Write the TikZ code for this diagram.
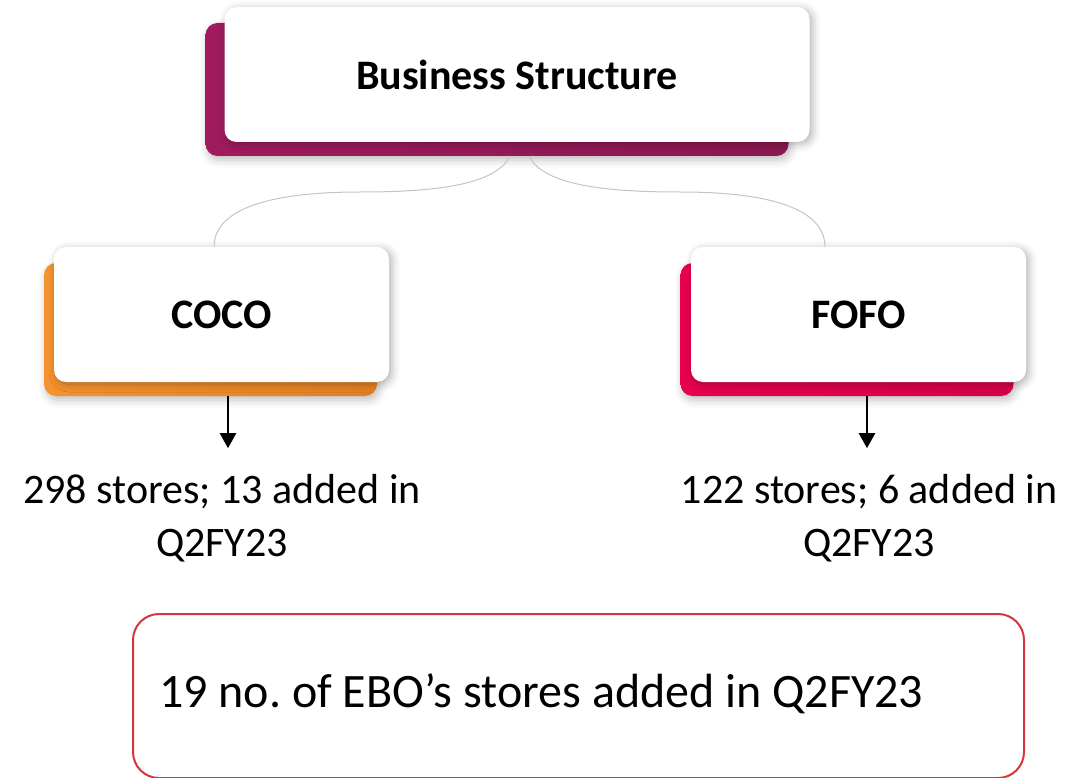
\documentclass[tikz,border=0pt]{standalone}
\usepackage{fontspec}
\setmainfont{Carlito}
\usetikzlibrary{arrows.meta,shadows.blur}
\definecolor{bsMagenta}{HTML}{8C1751}
\definecolor{bsMagentaLt}{HTML}{A01B5E}
\definecolor{bsOrange}{HTML}{E47F23}
\definecolor{bsOrangeLt}{HTML}{F4922F}
\definecolor{bsCrimson}{HTML}{D7004A}
\definecolor{bsCrimsonLt}{HTML}{E6004F}
\definecolor{bsRed}{HTML}{D5363E}
\definecolor{bsGray}{HTML}{C4C4C4}
\tikzset{
  bs card/.style={rectangle, rounded corners=12pt, fill=white, inner sep=0pt,
    minimum width=335pt, minimum height=135pt,
    font=\fontsize{42}{51}\selectfont\bfseries,
    blur shadow={shadow xshift=3pt, shadow yshift=-2pt, shadow blur radius=8pt, shadow opacity=30}},
  bs back/.style args={#1/#2}{rectangle, rounded corners=12pt, inner sep=0pt,
    left color=#1, right color=#2, minimum width=333pt, minimum height=133pt,
    blur shadow={shadow xshift=2pt, shadow yshift=-4pt, shadow blur radius=8pt, shadow opacity=25}},
  bs link/.style={draw=bsGray, line width=1pt},
  bs arrow/.style={draw=black, line width=2.4pt, -{Triangle[length=15pt,width=16pt]}},
  bs text/.style={align=center, font=\fontsize{42}{53}\selectfont},
  bs note/.style={draw=bsRed, line width=2pt, rounded corners=26pt,
    minimum width=891pt, minimum height=164pt},
  bs note text/.style={inner sep=0pt, font=\fontsize{48}{58}\selectfont\frenchspacing},
}

\begin{document}
\begin{tikzpicture}[x=1pt,y=-1pt]
  \useasboundingbox (0,0) rectangle (1088,778);
  % coloured cards behind the white ones
  \node[bs back={bsMagentaLt/bsMagenta}, minimum width=583pt, minimum height=133pt] (bizback) at (497,89.5) {};
  \node[bs back={bsOrangeLt/bsOrange}] (cocoback) at (210.5,329.5) {};
  \node[bs back={bsCrimsonLt/bsCrimson}] (fofoback) at (847,329.5) {};
  % white cards
  \node[bs card, minimum width=585pt] (biz) at (517,74.5) {Business Structure};
  \node[bs card] (coco) at (221.5,314.5) {COCO};
  \node[bs card] (fofo) at (858.5,314.5) {FOFO};
  % grey links from the top card
  \draw[bs link] ([xshift=13pt]bizback.south) .. controls +(-15,30) and +(70,0) .. (360,192)
    .. controls +(-110,0) and +(0,-30) .. ([xshift=-7.5pt]coco.north);
  \draw[bs link] ([xshift=32pt]bizback.south) .. controls +(15,30) and +(-70,0) .. (680,192)
    .. controls +(110,0) and +(0,-30) .. ([xshift=-33.5pt]fofo.north);
  % store counts
  \node[bs text] (cocotxt) at (222,518) {298 stores; 13 added in\\Q2FY23};
  \node[bs text] (fofotxt) at (869,518) {122 stores; 6 added in\\Q2FY23};
  \draw[bs arrow] ([xshift=17.5pt]cocoback.south) -- ++(0,52);
  \draw[bs arrow] ([xshift=20pt]fofoback.south) -- ++(0,52);
  % total
  \node[bs note] (ebo) at (578.5,696) {};
  \node[bs note text, anchor=west] (ebotxt) at ([xshift=27pt,yshift=2pt]ebo.west) {19 no. of EBO’s stores added in Q2FY23};
\end{tikzpicture}
\end{document}
